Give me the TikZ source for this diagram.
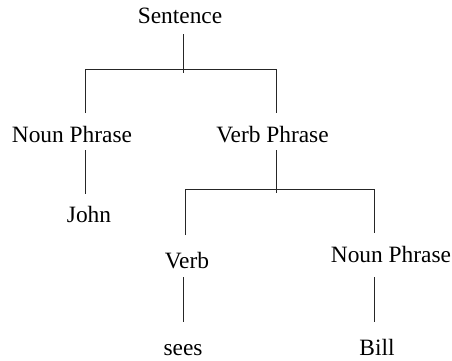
\documentclass[tikz,border=0pt]{standalone}
\usepackage{fontspec}
\setmainfont{Liberation Serif}
\begin{document}
\begin{tikzpicture}[x=1pt,y=-1pt,
  lbl/.style={anchor=base,inner sep=0pt,font=\fontsize{23.4}{28}\selectfont},
  edge/.style={line width=1pt,draw=black!85}]
\useasboundingbox (0,0) rectangle (452,360);
% words
\node[lbl] (s)   at (180,23)  {Sentence};
\node[lbl] (np1) at (72,142)  {Noun Phrase};
\node[lbl] (vp)  at (272.5,142) {Verb Phrase};
\node[lbl] (j)   at (89,222)  {John};
\node[lbl] (v)   at (187,268) {Verb};
\node[lbl] (np2) at (391,262) {Noun Phrase};
\node[lbl] (se)  at (183,355) {sees};
\node[lbl] (b)   at (377,355) {Bill};
% line ends
\coordinate (sB) at (183.5,34);
\coordinate (sJ) at (183.5,73);
\coordinate (h1L) at (85.5,69);
\coordinate (h1R) at (276.5,69);
\coordinate (np1T) at (85.5,113);
\coordinate (vpT) at (276.5,113);
\coordinate (np1B) at (85.5,150);
\coordinate (jT) at (85.5,194);
\coordinate (vpB) at (276.5,150);
\coordinate (vpJ) at (276.5,193);
\coordinate (h2L) at (185,189.5);
\coordinate (h2R) at (374,189.5);
\coordinate (vT) at (185,235);
\coordinate (np2T) at (374,233);
\coordinate (vB) at (183.7,277);
\coordinate (seT) at (183.7,322);
\coordinate (np2B) at (374,277);
\coordinate (bT) at (374,322);
% connectors
\draw[edge] (sB) -- (sJ);
\draw[edge] (np1T) -- (h1L) -- (h1R) -- (vpT);
\draw[edge] (np1B) -- (jT);
\draw[edge] (vpB) -- (vpJ);
\draw[edge] (vT) -- (h2L) -- (h2R) -- (np2T);
\draw[edge] (vB) -- (seT);
\draw[edge] (np2B) -- (bT);
\end{tikzpicture}
\end{document}
